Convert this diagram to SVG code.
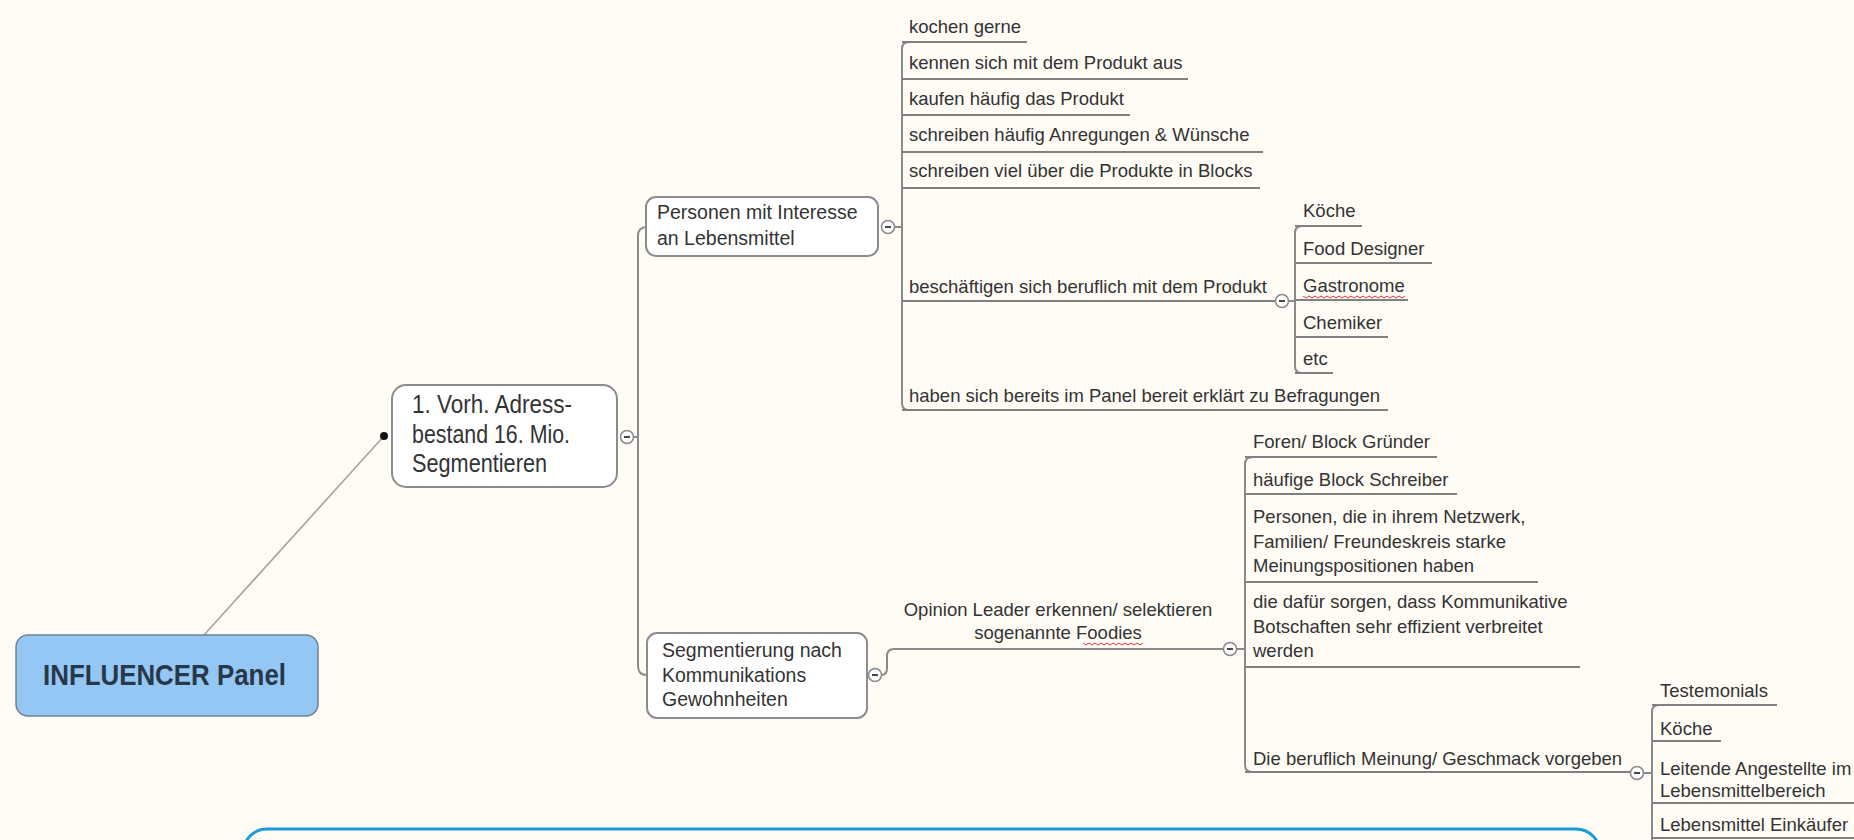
<svg xmlns="http://www.w3.org/2000/svg" width="1854" height="840" viewBox="0 0 1854 840">
<style>
.t{font-family:"Liberation Sans",Arial,sans-serif;font-size:18.5px;fill:#333}
.tb{font-family:"Liberation Sans",Arial,sans-serif;font-size:19.5px;fill:#333}
.c{fill:none;stroke:#8a8a8a;stroke-width:2}
.u{fill:none;stroke:#808080;stroke-width:1.8}
.box{fill:#ffffff;stroke:#8c8c8c;stroke-width:2}
.sq{fill:none;stroke:#e0303a;stroke-width:1}
</style>
<defs>
<g id="col"><circle r="6.5" fill="#fff" stroke="#8a8a8a" stroke-width="1.5"/><line x1="-3" y1="0" x2="3" y2="0" stroke="#333" stroke-width="1.8"/></g>
</defs>
<rect width="1854" height="840" fill="#fefcf5"/>

<g id="connectors">
<line x1="204" y1="635" x2="384" y2="436" stroke="#a8a298" stroke-width="1.6"/>
<circle cx="384" cy="436" r="4" fill="#111"/>
<path class="c" d="M633 437 L638 437 M647 227 Q638 227 638 236 L638 666 Q638 675 647 675"/>
<path class="c" d="M894 227 L902 227 M909 42 Q902 42 902 49 L902 403 Q902 410 909 410"/>
<path class="c" d="M881 675 Q887 675 887 668 L887 656 Q887 649 894 649 L1223 649"/>
<path class="c" d="M1237 649 L1245 649 M1253 457 Q1245 457 1245 464 L1245 765 Q1245 772 1253 772"/>
<path class="c" d="M1288 301 L1295 301 M1302 226 Q1295 226 1295 233 L1295 366 Q1295 373 1302 373"/>
<path class="c" d="M1644 773 L1652 773 M1659 705 Q1652 705 1652 712 L1652 840"/>
<path class="u" d="M902 42H1027 M902 79H1188 M902 115H1130 M902 152H1263 M902 188H1260 M902 301H1276 M902 410H1388"/>
<path class="u" d="M1295 226H1362 M1295 263H1432 M1295 300H1408 M1295 337H1388 M1295 373H1333"/>
<path class="u" d="M1245 457H1437 M1245 494H1457 M1245 582H1538 M1245 667H1580 M1245 772H1631"/>
<path class="u" d="M1652 705H1777 M1652 741H1721 M1652 803H1854 M1652 838H1854"/>
<use href="#col" x="627" y="437"/>
<use href="#col" x="888" y="227"/>
<use href="#col" x="875" y="675"/>
<use href="#col" x="1230" y="649"/>
<use href="#col" x="1282" y="301"/>
<use href="#col" x="1637" y="773"/>
</g>

<g id="root">
<rect x="16" y="635" width="302" height="81" rx="12" fill="#95c7f5" stroke="#6e8193" stroke-width="1.5"/>
<text x="43" y="685" font-family="Liberation Sans,Arial,sans-serif" font-weight="bold" font-size="30" fill="#26384a" textLength="243" lengthAdjust="spacingAndGlyphs">INFLUENCER Panel</text>
</g>

<g id="n-vorh">
<rect class="box" x="392" y="385" width="225" height="102" rx="14"/>
<text font-family="Liberation Sans,Arial,sans-serif" font-size="25" fill="#333">
<tspan x="412" y="413" textLength="160" lengthAdjust="spacingAndGlyphs">1. Vorh. Adress-</tspan>
<tspan x="412" y="443" textLength="158" lengthAdjust="spacingAndGlyphs">bestand 16. Mio.</tspan>
<tspan x="412" y="472" textLength="135" lengthAdjust="spacingAndGlyphs">Segmentieren</tspan>
</text>
</g>

<g id="n-personen">
<rect class="box" x="646" y="197" width="232" height="59" rx="10"/>
<text class="tb"><tspan x="657" y="219">Personen mit Interesse</tspan><tspan x="657" y="245">an Lebensmittel</tspan></text>
</g>

<g id="n-segment">
<rect class="box" x="647" y="633" width="220" height="85" rx="10"/>
<text class="tb"><tspan x="662" y="657">Segmentierung nach</tspan><tspan x="662" y="682">Kommunikations</tspan><tspan x="662" y="706">Gewohnheiten</tspan></text>
</g>

<g id="l-opinion">
<text class="t" text-anchor="middle"><tspan x="1058" y="616">Opinion Leader erkennen/ selektieren</tspan><tspan x="1058" y="639">sogenannte Foodies</tspan></text>
<path class="sq" d="M1083 643 l3 2 3 -2 3 2 3 -2 3 2 3 -2 3 2 3 -2 3 2 3 -2 3 2 3 -2 3 2 3 -2 3 2 3 -2 3 2 3 -2 3 2 3 -2"/>
</g>

<g id="p-children">
<text class="t" x="909" y="33">kochen gerne</text>
<text class="t" x="909" y="69">kennen sich mit dem Produkt aus</text>
<text class="t" x="909" y="105">kaufen häufig das Produkt</text>
<text class="t" x="909" y="141">schreiben häufig Anregungen &amp; Wünsche</text>
<text class="t" x="909" y="177">schreiben viel über die Produkte in Blocks</text>
<text class="t" x="909" y="293">beschäftigen sich beruflich mit dem Produkt</text>
<text class="t" x="909" y="402">haben sich bereits im Panel bereit erklärt zu Befragungen</text>
</g>

<g id="b-children">
<text class="t" x="1303" y="217">Köche</text>
<text class="t" x="1303" y="255">Food Designer</text>
<text class="t" x="1303" y="292">Gastronome</text>
<path class="sq" d="M1303 296 l3 2 3 -2 3 2 3 -2 3 2 3 -2 3 2 3 -2 3 2 3 -2 3 2 3 -2 3 2 3 -2 3 2 3 -2 3 2 3 -2 3 2 3 -2 3 2 3 -2 3 2 3 -2 3 2 3 -2 3 2 3 -2 3 2 3 -2 3 2 3 -2 3 2 3 -2"/>
<text class="t" x="1303" y="329">Chemiker</text>
<text class="t" x="1303" y="365">etc</text>
</g>

<g id="s-children">
<text class="t" x="1253" y="448">Foren/ Block Gründer</text>
<text class="t" x="1253" y="486">häufige Block Schreiber</text>
<text class="t"><tspan x="1253" y="523">Personen, die in ihrem Netzwerk,</tspan><tspan x="1253" y="548">Familien/ Freundeskreis starke</tspan><tspan x="1253" y="572">Meinungspositionen haben</tspan></text>
<text class="t"><tspan x="1253" y="608">die dafür sorgen, dass Kommunikative</tspan><tspan x="1253" y="633">Botschaften sehr effizient verbreitet</tspan><tspan x="1253" y="657">werden</tspan></text>
<text class="t" x="1253" y="765">Die beruflich Meinung/ Geschmack vorgeben</text>
</g>

<g id="d-children">
<text class="t" x="1660" y="697">Testemonials</text>
<text class="t" x="1660" y="735">Köche</text>
<text class="t"><tspan x="1660" y="775">Leitende Angestellte im</tspan><tspan x="1660" y="797">Lebensmittelbereich</tspan></text>
<text class="t" x="1660" y="831">Lebensmittel Einkäufer</text>
</g>

<g id="frame">
<rect x="243" y="829" width="1357" height="60" rx="24" fill="none" stroke="#1a9ad8" stroke-width="3"/>
</g>
</svg>
